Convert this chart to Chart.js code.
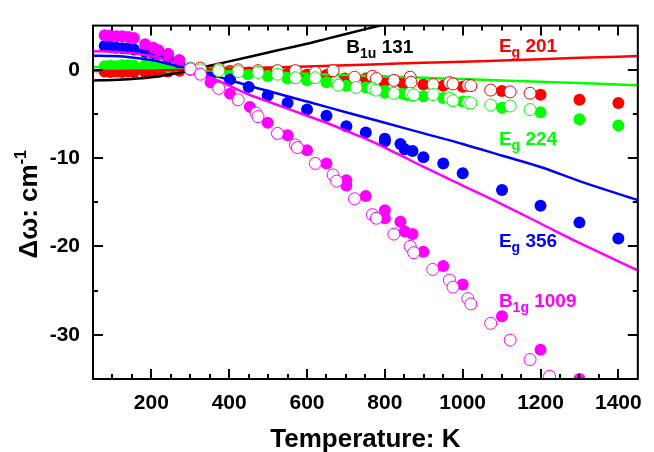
<!DOCTYPE html>
<html>
<head>
<meta charset="utf-8">
<script src="https://cdn.jsdelivr.net/npm/chart.js@4.4.0/dist/chart.umd.min.js"></script>
<style>
  body { margin: 0; background: #fff; }
  canvas { display: block; }
</style>
</head>
<body>
<canvas id="myChart" width="654" height="452"></canvas>
<script>
// values: T in K, shift in cm-1
var xTicks = [200, 400, 600, 800, 1000, 1200, 1400];
var yTicks = [0, -10, -20, -30];

// B1g 1009 (magenta)
var magFilledT = [80, 95, 110, 125, 140, 155, 184, 205, 218, 243, 272, 300, 352, 402, 453, 499, 550, 600, 650, 701, 701, 751, 800, 800, 840, 851, 871, 899, 950, 1000, 1101, 1200, 1300];
var magFilledW = [3.9, 3.85, 3.8, 3.8, 3.7, 3.6, 2.9, 2.5, 2.2, 1.8, 1.1, 0.2, -1.4, -2.7, -4.2, -6.0, -7.4, -9.1, -10.6, -12.5, -13.1, -14.3, -15.9, -16.8, -17.2, -18.3, -18.6, -20.6, -22.2, -24.3, -27.9, -31.7, -35.0];
var magOpenT = [300, 326, 373, 423, 469, 474, 524, 570, 575, 621, 667, 676, 722, 768, 778, 823, 865, 874, 923, 966, 975, 1013, 1021, 1072, 1122, 1173, 1223];
var magOpenW = [0.1, -0.5, -2.1, -3.4, -4.9, -5.3, -7.2, -8.5, -8.8, -10.6, -11.9, -12.6, -14.6, -16.4, -16.8, -18.6, -20.0, -20.7, -22.6, -23.8, -24.6, -25.9, -26.5, -28.7, -30.6, -32.8, -34.7];
var magLineT = [50, 100, 150, 200, 250, 300, 350, 400, 450, 500, 550, 600, 650, 700, 750, 800, 850, 900, 1000, 1100, 1200, 1300, 1450];
var magLineW = [2.1, 2.05, 1.9, 1.55, 0.95, 0.15, -0.8, -1.8, -2.8, -3.6, -4.4, -5.2, -6.0, -6.9, -7.8, -8.8, -9.9, -11.0, -13.1, -15.2, -17.4, -19.6, -22.7];

// Eg 356 (blue)
var blueFilledT = [80, 95, 110, 125, 140, 155, 184, 205, 218, 243, 272, 300, 352, 402, 450, 499, 550, 600, 650, 701, 751, 800, 800, 840, 851, 871, 899, 950, 1000, 1101, 1200, 1300, 1400];
var blueFilledW = [2.7, 2.6, 2.5, 2.45, 2.4, 2.3, 2.0, 1.9, 1.8, 1.4, 0.8, 0.2, -0.5, -1.1, -1.95, -2.9, -3.75, -4.5, -5.2, -6.4, -7.1, -7.8, -8.1, -8.4, -9.0, -9.2, -9.9, -10.6, -11.7, -13.6, -15.4, -17.3, -19.1];
var blueLineT = [50, 100, 150, 200, 250, 300, 350, 400, 450, 500, 600, 700, 800, 900, 1000, 1100, 1200, 1300, 1450];
var blueLineW = [1.6, 1.55, 1.4, 1.1, 0.6, 0.05, -0.55, -1.15, -1.8, -2.4, -3.6, -4.8, -6.0, -7.2, -8.4, -9.7, -11.0, -12.6, -14.75];

// Eg 224 (green)
var greenFilledT = [80, 95, 110, 125, 140, 155, 184, 205, 218, 243, 272, 300, 352, 402, 448, 499, 550, 600, 650, 701, 751, 800, 800, 844, 857, 871, 899, 950, 1000, 1101, 1200, 1300, 1400];
var greenFilledW = [0.4, 0.45, 0.4, 0.5, 0.5, 0.45, 0.5, 0.45, 0.4, 0.3, 0.2, 0.1, -0.2, -0.3, -0.5, -0.7, -1.0, -1.2, -1.4, -1.8, -2.0, -2.4, -2.6, -2.7, -2.85, -2.9, -3.0, -3.2, -3.6, -4.3, -4.8, -5.6, -6.3];
var greenOpenT = [300, 326, 373, 423, 474, 524, 570, 621, 676, 680, 726, 768, 777, 823, 865, 874, 924, 966, 975, 1013, 1021, 1072, 1122, 1173];
var greenOpenW = [0.2, 0.0, -0.1, -0.2, -0.3, -0.5, -0.9, -0.9, -1.5, -1.74, -2.0, -2.1, -2.3, -2.66, -2.66, -2.83, -2.8, -3.2, -3.5, -3.7, -3.75, -4.0, -4.1, -4.5];
var greenLineT = [50, 100, 150, 200, 250, 300, 400, 500, 600, 700, 800, 900, 1000, 1100, 1200, 1300, 1450];
var greenLineW = [0.3, 0.3, 0.27, 0.2, 0.1, 0.0, -0.15, -0.3, -0.45, -0.6, -0.75, -0.9, -1.05, -1.2, -1.35, -1.5, -1.75];

// Eg 201 (red)
var redFilledT = [80, 95, 110, 125, 140, 155, 184, 205, 218, 243, 272, 300, 352, 402, 450, 499, 550, 600, 650, 697, 751, 798, 844, 857, 899, 950, 1000, 1101, 1200, 1300, 1400];
var redFilledW = [-0.2, -0.25, -0.2, -0.25, -0.2, -0.25, -0.25, -0.2, -0.25, -0.2, -0.1, 0.0, -0.1, -0.15, -0.3, -0.35, -0.45, -0.55, -0.6, -1.0, -1.0, -1.3, -1.45, -1.57, -1.68, -1.82, -1.93, -2.4, -2.84, -3.4, -3.75];
var redOpenT = [300, 326, 373, 423, 474, 524, 570, 621, 667, 722, 768, 778, 823, 865, 867, 924, 966, 975, 1013, 1021, 1072, 1122, 1173];
var redOpenW = [0.1, 0.2, 0.1, 0.0, -0.1, -0.1, -0.1, -0.3, -0.1, -0.84, -0.73, -1.0, -1.2, -0.84, -1.4, -1.68, -1.46, -1.6, -1.74, -1.8, -2.3, -2.5, -2.65];
var redLineT = [50, 100, 150, 200, 250, 300, 400, 500, 600, 700, 800, 900, 1000, 1100, 1200, 1300, 1450];
var redLineW = [-0.15, -0.15, -0.12, -0.1, -0.05, 0.0, 0.12, 0.25, 0.38, 0.5, 0.65, 0.8, 0.9, 1.05, 1.2, 1.35, 1.55];

// B1u 131 (black, curve only)
var blackLineT = [50, 100, 150, 200, 250, 300, 350, 400, 450, 500, 550, 600, 650, 700, 750, 800];
var blackLineW = [-1.2, -1.15, -1.05, -0.85, -0.5, -0.05, 0.45, 0.95, 1.45, 1.95, 2.45, 2.95, 3.5, 4.05, 4.6, 5.15];

var RED = '#ff0000', GREEN = '#00ff00', BLUE = '#0000ff', MAG = '#ff00ff', BLACK = '#000000';
var FONT = '"Liberation Sans", Arial, sans-serif';

// mode labels, anchored in data coordinates
var modeLabels = [
    { main: 'B', sub: '1u', rest: ' 131', T: 701, w: 1.88, color: BLACK },
    { main: 'E', sub: 'g', rest: ' 201', T: 1093, w: 1.96, color: RED },
    { main: 'E', sub: 'g', rest: ' 224', T: 1093, w: -8.46, color: GREEN },
    { main: 'E', sub: 'g', rest: ' 356', T: 1093, w: -20.1, color: BLUE },
    { main: 'B', sub: '1g', rest: ' 1009', T: 1093, w: -26.8, color: MAG }
];

function pts(ts, ws) {
    var out = [];
    for (var i = 0; i < ts.length; i++) {
        out.push({ x: ts[i], y: ws[i] });
    }
    return out;
}

function filled(ts, ws, color) {
    return { data: pts(ts, ws), pointRadius: 6, pointBackgroundColor: color, pointBorderColor: color,
        pointBorderWidth: 0, showLine: false, order: 3, clip: 0 };
}
function open(ts, ws, color) {
    return { data: pts(ts, ws), pointRadius: 6, pointBackgroundColor: '#ffffff', pointBorderColor: color,
        pointBorderWidth: 1, showLine: false, order: 1, clip: 0 };
}
function curve(ts, ws, color) {
    return { data: pts(ts, ws), showLine: true, pointRadius: 0, borderColor: color, borderWidth: 2.5,
        cubicInterpolationMode: 'monotone', order: 2, clip: 0 };
}

// inward ticks on all four sides, frame, texts
var framePlugin = {
    id: 'frame',
    afterDraw: function (chart) {
        var ctx = chart.ctx, a = chart.chartArea;
        var xs = chart.scales.x, ys = chart.scales.y;
        ctx.save();
        ctx.strokeStyle = '#000';
        ctx.lineWidth = 2;
        ctx.strokeRect(a.left, a.top, a.right - a.left, a.bottom - a.top);
        ctx.beginPath();
        for (var t = 100; t <= 1400; t += 50) {
            var px = Math.round(xs.getPixelForValue(t));
            var len = (t % 200 === 0) ? 10 : 5;
            ctx.moveTo(px, a.bottom); ctx.lineTo(px, a.bottom - len);
            ctx.moveTo(px, a.top); ctx.lineTo(px, a.top + len);
        }
        for (var v = -30; v <= 0; v += 5) {
            var py = Math.round(ys.getPixelForValue(v));
            var l2 = (v % 10 === 0) ? 10 : 5;
            ctx.moveTo(a.left, py); ctx.lineTo(a.left + l2, py);
            ctx.moveTo(a.right, py); ctx.lineTo(a.right - l2, py);
        }
        ctx.stroke();

        // mode labels
        ctx.textBaseline = 'alphabetic';
        ctx.textAlign = 'left';
        modeLabels.forEach(function (m) {
            var x = xs.getPixelForValue(m.T), y = ys.getPixelForValue(m.w);
            ctx.fillStyle = m.color;
            ctx.font = 'bold 19px ' + FONT;
            ctx.fillText(m.main, x, y);
            x += ctx.measureText(m.main).width;
            ctx.font = 'bold 14px ' + FONT;
            ctx.fillText(m.sub, x, y + 5);
            x += ctx.measureText(m.sub).width;
            ctx.font = 'bold 19px ' + FONT;
            ctx.fillText(m.rest, x, y);
        });

        // axis titles
        ctx.fillStyle = '#000';
        ctx.font = 'bold 26px ' + FONT;
        ctx.textAlign = 'center';
        ctx.fillText('Temperature: K', (a.left + a.right) / 2, 447);

        ctx.translate(37, (a.top + a.bottom) / 2 + 2);
        ctx.rotate(-Math.PI / 2);
        ctx.textAlign = 'left';
        ctx.font = 'bold 26px ' + FONT;
        var main = 'Δω: cm';
        var wMain = ctx.measureText(main).width;
        ctx.font = 'bold 16px ' + FONT;
        var wSup = ctx.measureText('-1').width;
        var x0 = -(wMain + wSup) / 2;
        ctx.font = 'bold 26px ' + FONT;
        ctx.fillText(main, x0, 0);
        ctx.font = 'bold 16px ' + FONT;
        ctx.fillText('-1', x0 + wMain, -11);
        ctx.restore();
    }
};

var ctx = document.getElementById('myChart').getContext('2d');
var myChart = new Chart(ctx, {
    type: 'scatter',
    data: {
        datasets: [
            filled(magFilledT, magFilledW, MAG),
            filled(blueFilledT, blueFilledW, BLUE),
            filled(greenFilledT, greenFilledW, GREEN),
            filled(redFilledT, redFilledW, RED),
            curve(blackLineT, blackLineW, BLACK),
            curve(redLineT, redLineW, RED),
            curve(greenLineT, greenLineW, GREEN),
            curve(blueLineT, blueLineW, BLUE),
            curve(magLineT, magLineW, MAG),
            open(magOpenT, magOpenW, MAG),
            open(greenOpenT, greenOpenW, GREEN),
            open(redOpenT, redOpenW, RED)
        ]
    },
    options: {
        responsive: false,
        animation: false,
        events: [],
        layout: { padding: { left: 0, top: 12, right: 8, bottom: 0 } },
        plugins: { legend: { display: false }, tooltip: { enabled: false } },
        scales: {
            x: {
                type: 'linear',
                min: 50,
                max: 1450,
                afterBuildTicks: function (s) { s.ticks = xTicks.map(function (v) { return { value: v }; }); },
                afterFit: function (s) { s.height = 73; },
                grid: { display: false, drawTicks: false },
                border: { display: false },
                ticks: { color: '#000', padding: 12, maxRotation: 0, autoSkip: false,
                    callback: function (v) { return String(v); },
                    font: { family: FONT, size: 21, weight: 'bold' } }
            },
            y: {
                type: 'linear',
                min: -35,
                max: 5,
                afterBuildTicks: function (s) { s.ticks = yTicks.map(function (v) { return { value: v }; }); },
                afterFit: function (s) { s.width = 93; },
                grid: { display: false, drawTicks: false },
                border: { display: false },
                ticks: { color: '#000', padding: 13, autoSkip: false,
                    callback: function (v) { return String(v); },
                    font: { family: FONT, size: 21, weight: 'bold' } }
            }
        }
    },
    plugins: [framePlugin]
});
</script>
</body>
</html>
